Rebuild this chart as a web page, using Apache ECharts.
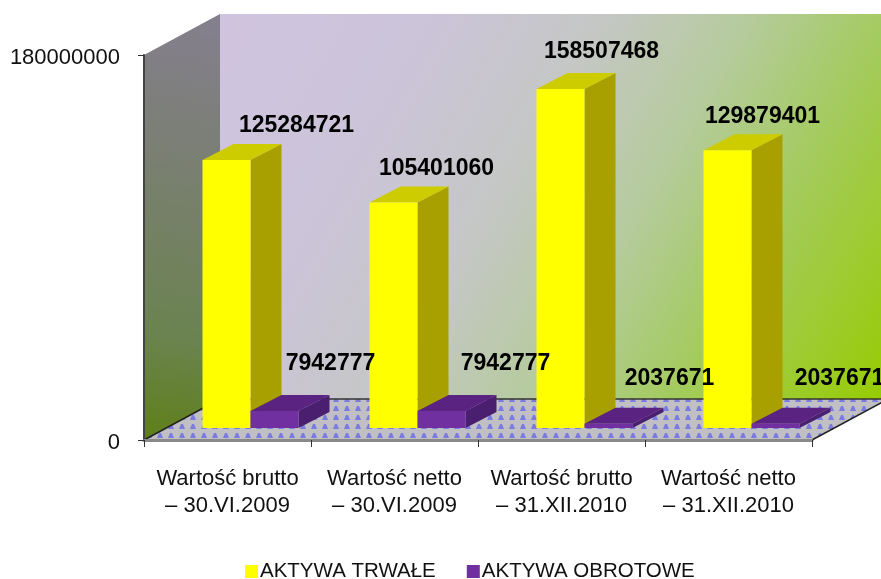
<!DOCTYPE html>
<html>
<head>
<meta charset="utf-8">
<style>
  html, body { margin: 0; padding: 0; background: #fff; }
  #barChart { width: 881px; height: 579px; }
</style>
<script src="https://cdn.jsdelivr.net/npm/echarts@6/dist/echarts.min.js"></script>
</head>
<body>
<div id="barChart"></div>
<script>
var categories = [
  'Wartość brutto\n– 30.VI.2009',
  'Wartość netto\n– 30.VI.2009',
  'Wartość brutto\n– 31.XII.2010',
  'Wartość netto\n– 31.XII.2010'
]
var trwale = [125284721, 105401060, 158507468, 129879401]
var obrotowe = [7942777, 7942777, 2037671, 2037671]
var seriesNames = ['AKTYWA TRWAŁE', 'AKTYWA OBROTOWE']
var axisMax = 180000000

// wielkosc "glebokosci" wykresu 3D
var DEPTH_X = 76
var DEPTH_Y = 41
var BAR_W = 48
var BAR_SHIFT_X = 23
var BAR_SHIFT_Y = 12
var BAR_DX = 31
var BAR_DY = 16
// etykiety byly przesuwane recznie, przesuniecie od srodka kolumny
var trwaleLabelPos = [[70, -34], [43, -34], [41, -37], [35, -34]]
var obrotoweLabelPos = [[56, -47], [64, -47], [61, -45], [64, -45]]

function floorPattern() {
  var c = document.createElement('canvas')
  c.width = 11
  c.height = 9
  var ctx = c.getContext('2d')
  ctx.fillStyle = '#c0c0c4'
  ctx.fillRect(0, 0, 11, 9)
  ctx.filter = 'blur(0.6px)'
  ctx.fillStyle = '#7a7ae0'
  ctx.beginPath()
  ctx.moveTo(5, 1)
  ctx.lineTo(7, 1)
  ctx.lineTo(9, 6)
  ctx.lineTo(3, 6)
  ctx.closePath()
  ctx.fill()
  return c
}
var floorImg = floorPattern()

function renderWalls(params, api) {
  var cs = params.coordSys
  var x0 = cs.x
  var y0 = cs.y + cs.height
  var x1 = cs.x + cs.width
  var yt = cs.y
  var line = { stroke: '#222', lineWidth: 1.5 }
  return {
    type: 'group',
    children: [
      {
        type: 'polygon',
        shape: { points: [[x0 + DEPTH_X, yt - DEPTH_Y], [x1 + DEPTH_X, yt - DEPTH_Y], [x1 + DEPTH_X, y0 - DEPTH_Y], [x0 + DEPTH_X, y0 - DEPTH_Y]] },
        style: {
          fill: new echarts.graphic.LinearGradient(0, 0, 1, 1, [
            { offset: 0, color: '#d0c4e0' },
            { offset: 0.25, color: '#cbc4d8' },
            { offset: 0.43, color: '#c5c7c5' },
            { offset: 0.6, color: '#b5cb9c' },
            { offset: 0.75, color: '#a4cb60' },
            { offset: 1, color: '#96cc00' }
          ])
        }
      },
      {
        type: 'polygon',
        shape: { points: [[x0, yt], [x0 + DEPTH_X, yt - DEPTH_Y], [x0 + DEPTH_X, y0 - DEPTH_Y], [x0, y0]] },
        style: {
          fill: new echarts.graphic.LinearGradient(1, 0, 0, 1, [
            { offset: 0, color: '#857f8f' },
            { offset: 0.35, color: '#7a7f72' },
            { offset: 0.75, color: '#6b8350' },
            { offset: 1, color: '#5f7f18' }
          ])
        }
      },
      {
        type: 'polygon',
        shape: { points: [[x0, y0], [x0 + DEPTH_X, y0 - DEPTH_Y], [x1 + DEPTH_X, y0 - DEPTH_Y], [x1, y0]] },
        style: { fill: { image: floorImg, repeat: 'repeat' } }
      },
      { type: 'line', shape: { x1: x0, y1: y0, x2: x0 + DEPTH_X, y2: y0 - DEPTH_Y }, style: line },
      { type: 'line', shape: { x1: x1, y1: y0, x2: x1 + DEPTH_X, y2: y0 - DEPTH_Y }, style: line },
      { type: 'line', shape: { x1: x0 + DEPTH_X, y1: y0 - DEPTH_Y, x2: x1 + DEPTH_X, y2: y0 - DEPTH_Y }, style: { stroke: '#333', lineWidth: 1.5 } }
    ]
  }
}

function makeBarRender(slot, colors, labelPos) {
  return function (params, api) {
    var cat = api.value(0)
    var val = api.value(1)
    var top = api.coord([cat, val])
    var base = api.coord([cat, 0])
    var left = top[0] + BAR_SHIFT_X - BAR_W + slot * BAR_W
    var right = left + BAR_W
    var yTop = top[1] - BAR_SHIFT_Y
    var yBase = base[1] - BAR_SHIFT_Y
    var pos = labelPos[params.dataIndex]
    return {
      type: 'group',
      children: [
        {
          type: 'polygon',
          shape: { points: [[right, yTop], [right + BAR_DX, yTop - BAR_DY], [right + BAR_DX, yBase - BAR_DY], [right, yBase]] },
          style: { fill: colors.side }
        },
        {
          type: 'polygon',
          shape: { points: [[left, yTop], [left + BAR_DX, yTop - BAR_DY], [right + BAR_DX, yTop - BAR_DY], [right, yTop]] },
          style: { fill: colors.top }
        },
        {
          type: 'rect',
          shape: { x: left, y: yTop, width: BAR_W, height: yBase - yTop },
          style: { fill: colors.front }
        },
        {
          type: 'text',
          z2: 50,
          style: {
            x: left + BAR_W / 2 + pos[0],
            y: yTop + pos[1],
            text: String(val),
            fill: '#000',
            font: 'bold 23px "Liberation Sans", Arial, sans-serif',
            align: 'center',
            verticalAlign: 'middle'
          }
        }
      ]
    }
  }
}

function toData(values) {
  return values.map(function (v, i) {
    return [i, v]
  })
}

var myChart = echarts.init(document.getElementById('barChart'), null, { renderer: 'canvas' })
var option = {
  animation: false,
  textStyle: { fontFamily: '"Liberation Sans", Arial, sans-serif' },
  legend: {
    data: seriesNames,
    left: 240,
    top: 556,
    itemWidth: 13,
    itemHeight: 13,
    itemGap: 31,
    icon: 'rect',
    textStyle: { fontSize: 20.5, color: '#111', padding: [0, 0, 0, -3] }
  },
  grid: { left: 144, top: 55, width: 668, height: 385 },
  xAxis: {
    type: 'category',
    data: categories,
    z: 5,
    axisLine: { lineStyle: { color: '#8a8a8a', width: 3 } },
    axisTick: { show: true, length: 7, lineStyle: { color: '#333' } },
    axisLabel: { color: '#111', fontSize: 22, lineHeight: 27, margin: 25, interval: 0 }
  },
  yAxis: {
    type: 'value',
    min: 0,
    max: axisMax,
    interval: axisMax,
    z: 5,
    splitLine: { show: false },
    axisLine: { show: true, lineStyle: { color: '#444', width: 2 } },
    axisTick: { show: true, length: 6, lineStyle: { color: '#333' } },
    axisLabel: {
      margin: 24,
      formatter: function (v) {
        return '{v|' + v + '}'
      },
      rich: {
        v: { color: '#111', fontSize: 22, padding: [5, 0, 0, 0] }
      }
    }
  },
  series: [
    {
      name: 'sciany',
      type: 'custom',
      silent: true,
      z: 1,
      renderItem: renderWalls,
      data: [[0, 0]]
    },
    {
      name: seriesNames[0],
      type: 'custom',
      z: 2,
      itemStyle: { color: '#ffff00' },
      renderItem: makeBarRender(0, { front: '#ffff00', top: '#cccc00', side: '#a8a000' }, trwaleLabelPos),
      encode: { x: 0, y: 1 },
      data: toData(trwale)
    },
    {
      name: seriesNames[1],
      type: 'custom',
      z: 3,
      itemStyle: { color: '#7030a0' },
      renderItem: makeBarRender(1, { front: '#7030a0', top: '#5a2382', side: '#4a1f70' }, obrotoweLabelPos),
      encode: { x: 0, y: 1 },
      data: toData(obrotowe)
    }
  ]
}
myChart.setOption(option)
</script>
</body>
</html>
